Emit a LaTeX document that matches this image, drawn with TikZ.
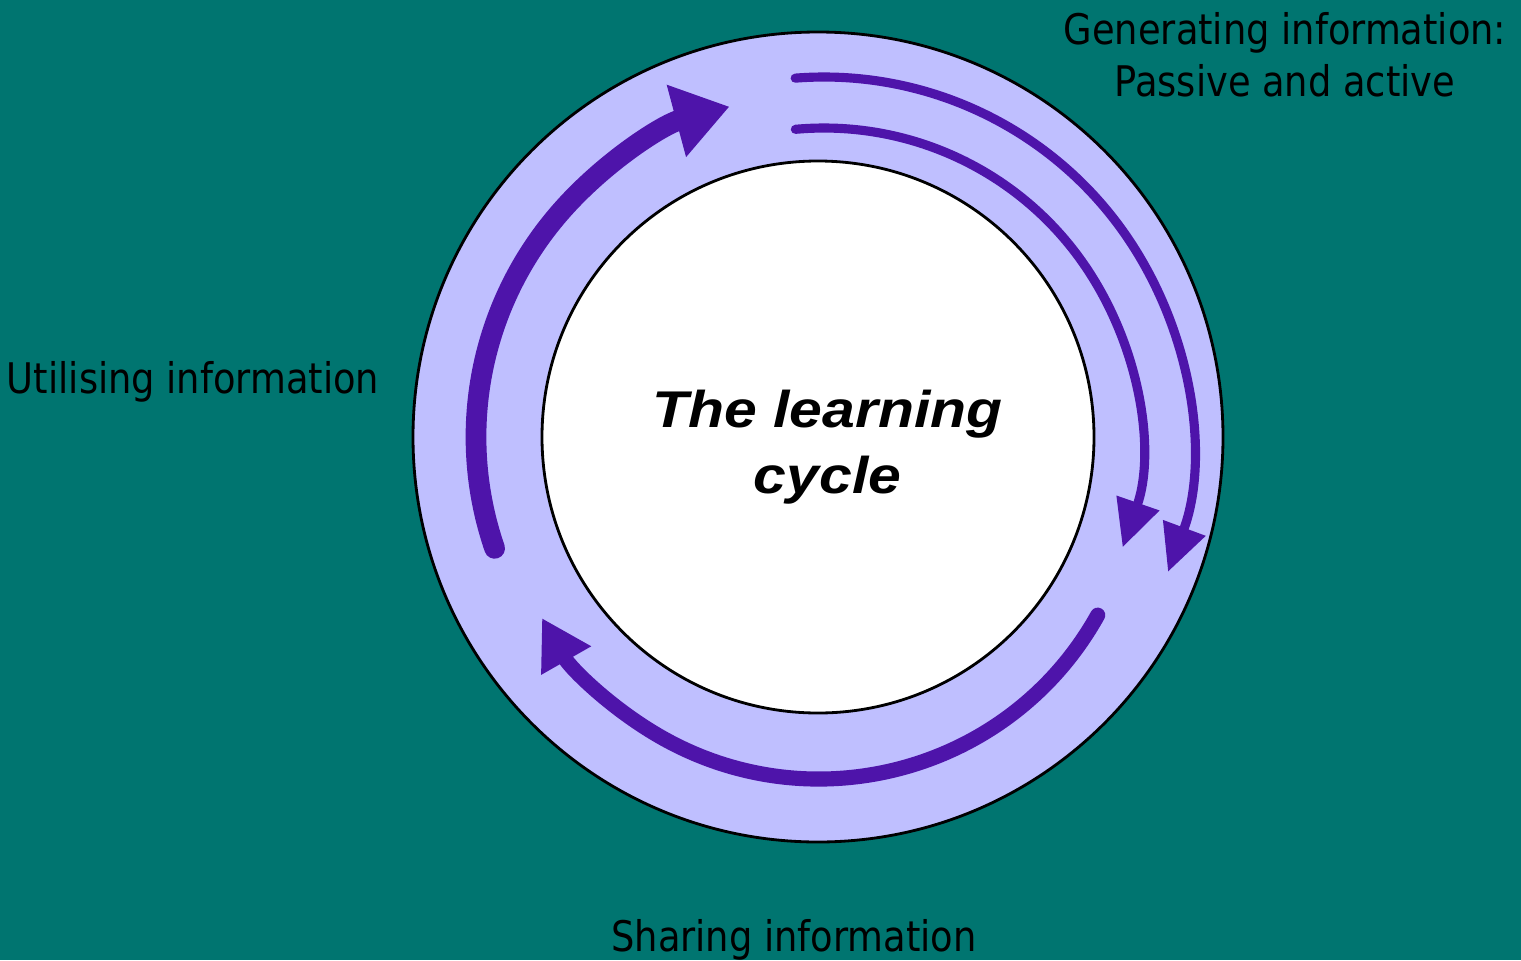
\documentclass[tikz,border=0pt]{standalone}
\usepackage{fontspec}
\setmainfont[FakeStretch=0.97]{DejaVu Sans Condensed}
\newfontfamily\cyclefont[FakeStretch=1.14]{Liberation Sans}
\usepackage{xcolor}
\usetikzlibrary{arrows.meta}

\definecolor{tealbg}{RGB}{0,117,112}
\definecolor{ringfill}{RGB}{191,191,255}
\definecolor{cycleviolet}{RGB}{78,20,170}

\tikzset{
  stagetext/.style={font=\fontsize{12}{14.8}\selectfont, align=center, inner sep=0pt},
  cycleline/.style={draw=cycleviolet, line cap=round},
}

\begin{document}
\begin{tikzpicture}
  \useasboundingbox (0, 0) rectangle (15.21, 9.60);
  \fill[tealbg] (0, 0) rectangle (15.21, 9.60);

  % Ring
  \coordinate (hub) at (8.18, 5.23);
  \draw[fill=ringfill, line width=0.8pt] (hub) circle (4.05);
  \draw[fill=white, line width=0.8pt] (hub) circle (2.76);

  % Arc centres
  \coordinate (hubR) at (8.24, 5.16);
  \coordinate (hubB) at (8.19, 5.00);

  % Utilising -> generating
  \draw[cycleline, line width=5.9pt, -{Triangle[length=0.55cm, width=0.71cm]}]
    (hub) ++(199:3.42) arc[start angle=199, end angle=105, radius=3.42];

  % Generating -> sharing (passive and active)
  \draw[cycleline, line width=2.6pt, -{Triangle[length=0.47cm, width=0.43cm]}]
    (hubR) ++(94.5:3.67) arc[start angle=94.5, end angle=-20.4, radius=3.67];
  \draw[cycleline, line width=2.6pt, -{Triangle[length=0.47cm, width=0.43cm]}]
    (hubR) ++(95.2:3.16) arc[start angle=95.2, end angle=-19.1, radius=3.16];

  % Sharing -> utilising
  \draw[cycleline, line width=4.3pt, -{Triangle[length=0.49cm, width=0.54cm]}]
    (hubB) ++(-29.1:3.19) arc[start angle=-29.1, end angle=-150.3, radius=3.19];

  % Labels
  \node[stagetext] (generating) at (12.85, 9.05) {Generating information:\\ Passive and active};
  \node[stagetext, anchor=base] (utilising) at (1.93, 5.67) {Utilising information};
  \node[stagetext, anchor=base] (sharing) at (7.94, 0.09) {Sharing information};
  \node[align=center, inner sep=0pt, font=\cyclefont\bfseries\itshape\fontsize{14.7}{18.8}\selectfont]
    (cycle) at (8.275, 5.13) {The learning\\ cycle};
\end{tikzpicture}
\end{document}
